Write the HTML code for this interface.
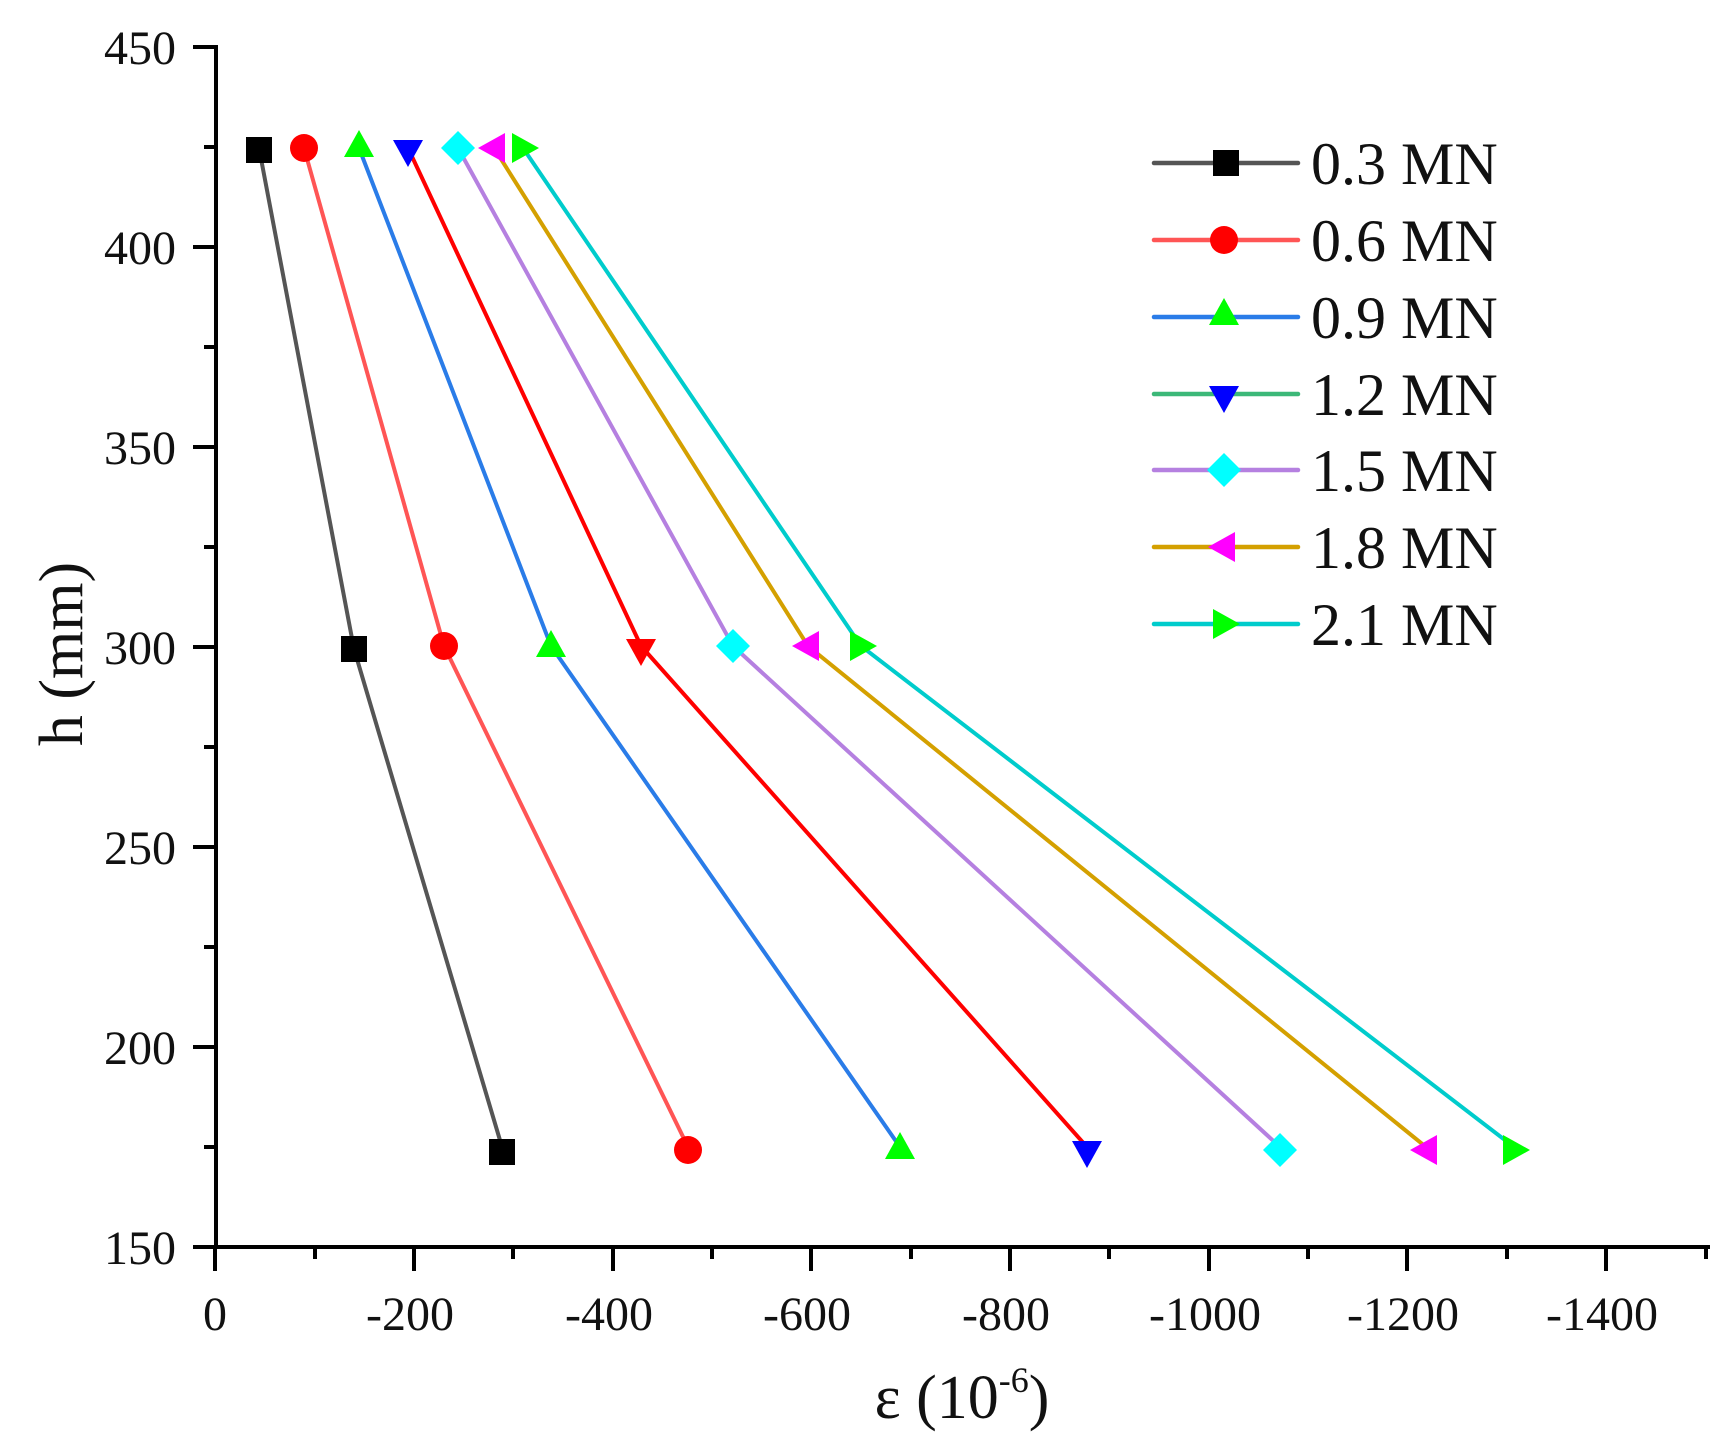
<!DOCTYPE html>
<html><head><meta charset="utf-8"><style>
html,body{margin:0;padding:0;background:#fff;}
svg{display:block;font-family:"Liberation Serif",serif;}
</style></head><body>
<svg width="1730" height="1445" viewBox="0 0 1730 1445" xmlns="http://www.w3.org/2000/svg">
<g stroke="#000" stroke-width="4" fill="none">
<line x1="216" y1="45" x2="216" y2="1249"/>
<line x1="214" y1="1247" x2="1710" y2="1247"/>
<line x1="193" y1="47" x2="216" y2="47"/><line x1="193" y1="247" x2="216" y2="247"/>
<line x1="193" y1="447" x2="216" y2="447"/><line x1="193" y1="647" x2="216" y2="647"/>
<line x1="193" y1="847" x2="216" y2="847"/><line x1="193" y1="1047" x2="216" y2="1047"/>
<line x1="193" y1="1247" x2="216" y2="1247"/>
<line x1="204" y1="147" x2="216" y2="147"/><line x1="204" y1="347" x2="216" y2="347"/>
<line x1="204" y1="547" x2="216" y2="547"/><line x1="204" y1="747" x2="216" y2="747"/>
<line x1="204" y1="947" x2="216" y2="947"/><line x1="204" y1="1147" x2="216" y2="1147"/>
<line x1="215" y1="1247" x2="215" y2="1271"/><line x1="414" y1="1247" x2="414" y2="1271"/>
<line x1="613" y1="1247" x2="613" y2="1271"/><line x1="811" y1="1247" x2="811" y2="1271"/>
<line x1="1010" y1="1247" x2="1010" y2="1271"/><line x1="1209" y1="1247" x2="1209" y2="1271"/>
<line x1="1407" y1="1247" x2="1407" y2="1271"/><line x1="1606" y1="1247" x2="1606" y2="1271"/>
<line x1="315" y1="1247" x2="315" y2="1259"/><line x1="513" y1="1247" x2="513" y2="1259"/>
<line x1="712" y1="1247" x2="712" y2="1259"/><line x1="911" y1="1247" x2="911" y2="1259"/>
<line x1="1109" y1="1247" x2="1109" y2="1259"/><line x1="1308" y1="1247" x2="1308" y2="1259"/>
<line x1="1507" y1="1247" x2="1507" y2="1259"/><line x1="1706" y1="1247" x2="1706" y2="1259"/>
</g>
<g font-size="48" fill="#111" text-anchor="end">
<text x="176" y="64">450</text><text x="176" y="264">400</text><text x="176" y="464">350</text>
<text x="176" y="664">300</text><text x="176" y="864">250</text><text x="176" y="1064">200</text>
<text x="176" y="1264">150</text>
</g>
<g font-size="48" fill="#111" text-anchor="middle">
<text x="215" y="1330">0</text><text x="410" y="1330">-200</text><text x="609" y="1330">-400</text>
<text x="807" y="1330">-600</text><text x="1006" y="1330">-800</text><text x="1205" y="1330">-1000</text>
<text x="1403" y="1330">-1200</text><text x="1602" y="1330">-1400</text>
</g>
<text x="962" y="1418" font-size="62" text-anchor="middle" fill="#111">ε (10<tspan font-size="36" dy="-26">-6</tspan><tspan dy="26">)</tspan></text>
<text transform="translate(82,654) rotate(-90)" font-size="62" text-anchor="middle" fill="#111">h (mm)</text>

<g fill="none" stroke-width="4">
<polyline stroke="#555" points="259,148 354,649 502,1147"/>
<polyline stroke="#f55" points="304,148 444,646 688,1147"/>
<polyline stroke="#2a7ce8" points="359,148 551,646 900,1147"/>
<polyline stroke="#f00" points="408,148 641,646 1087,1147"/>
<polyline stroke="#b580e0" points="458,148 733,646 1280,1147"/>
<polyline stroke="#d4a000" points="494,148 808,646 1426,1147"/>
<polyline stroke="#00cccc" points="523,148 861,646 1514,1147"/>
</g>
<defs>
<rect id="sq" x="-13" y="-13" width="26" height="26" fill="#000"/>
<circle id="ci" r="14" fill="#f00"/>
<polygon id="tu" points="0,-16 15,11 -15,11" fill="#0f0"/>
<polygon id="td" points="0,16 15,-11 -15,-11" fill="#00f"/>
<polygon id="tdr" points="0,16 15,-11 -15,-11" fill="#f00"/>
<polygon id="di" points="0,-17 17,0 0,17 -17,0" fill="#0ff"/>
<polygon id="tl" points="-16,0 11,-15 11,15" fill="#f0f"/>
<polygon id="tr" points="16,0 -11,-15 -11,15" fill="#0f0"/>
</defs>
<use href="#sq" x="259" y="150"/><use href="#sq" x="354" y="649"/><use href="#sq" x="502" y="1152"/>
<use href="#ci" x="304" y="148"/><use href="#ci" x="444" y="646"/><use href="#ci" x="688" y="1150"/>
<use href="#tu" x="359" y="146"/><use href="#tu" x="551" y="646"/><use href="#tu" x="900" y="1148"/>
<use href="#td" x="408" y="151"/><use href="#tdr" x="641" y="650"/><use href="#td" x="1087" y="1152"/>
<use href="#di" x="458" y="148"/><use href="#di" x="733" y="646"/><use href="#di" x="1280" y="1150"/>
<use href="#tl" x="494" y="148"/><use href="#tl" x="808" y="646"/><use href="#tl" x="1426" y="1150"/>
<use href="#tr" x="523" y="148"/><use href="#tr" x="861" y="646"/><use href="#tr" x="1514" y="1150"/>

<g stroke-width="4.5" stroke-linecap="round">
<line x1="1154" y1="163" x2="1298" y2="163" stroke="#555"/>
<line x1="1154" y1="240" x2="1298" y2="240" stroke="#f55"/>
<line x1="1154" y1="317" x2="1298" y2="317" stroke="#2a7ce8"/>
<line x1="1154" y1="394" x2="1298" y2="394" stroke="#3cb878"/>
<line x1="1154" y1="470" x2="1298" y2="470" stroke="#b580e0"/>
<line x1="1154" y1="547" x2="1298" y2="547" stroke="#d4a000"/>
<line x1="1154" y1="624" x2="1298" y2="624" stroke="#00cccc"/>
</g>
<use href="#sq" x="1226" y="163"/><use href="#ci" x="1224" y="240"/><use href="#tu" x="1224" y="314"/>
<use href="#td" x="1224" y="397"/><use href="#di" x="1224" y="470"/><use href="#tl" x="1224" y="547"/>
<use href="#tr" x="1224" y="624"/>
<g font-size="60" fill="#111">
<text x="1311" y="184">0.3 MN</text><text x="1311" y="261">0.6 MN</text><text x="1311" y="338">0.9 MN</text>
<text x="1311" y="415">1.2 MN</text><text x="1311" y="491">1.5 MN</text><text x="1311" y="568">1.8 MN</text>
<text x="1311" y="645">2.1 MN</text>
</g>
</svg>
</body></html>
